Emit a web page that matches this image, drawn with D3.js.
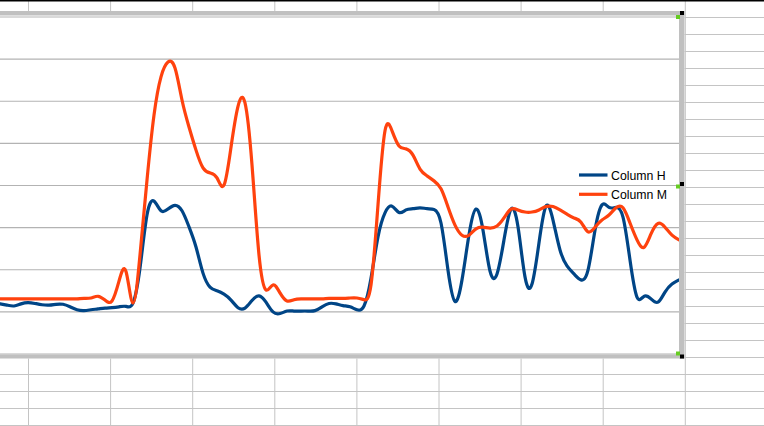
<!DOCTYPE html>
<html><head><meta charset="utf-8">
<script src="https://cdn.jsdelivr.net/npm/d3@7/dist/d3.min.js"></script>
<style>html,body{margin:0;padding:0;background:#fff;overflow:hidden}</style>
</head><body>
<svg id="c" width="764" height="426"></svg>
<script>
// ---- data ----
const seriesNames = ["Column H", "Column M"];
const columnH = [11.9,11.6,11.4,11.9,12.2,12.0,11.7,11.6,11.8,11.8,
 11.2,10.5,10.3,10.5,10.7,10.9,11.0,11.2,11.3,12.1,
 20.4,33.0,36.3,34.0,34.4,35.3,34.0,30.2,25.4,19.2,
 15.9,15.0,14.2,12.8,11.0,10.9,12.7,13.8,12.3,10.0,
 9.6,10.2,10.2,10.2,10.2,10.3,11.2,12.0,11.9,11.5,
 11.2,10.5,11.4,18.0,27.8,33.5,35.1,33.6,34.2,34.5,
 34.7,34.5,34.3,31.1,19.9,12.5,17.6,28.3,34.4,29.4,
 19.7,19.0,27.1,34.4,30.2,18.3,16.6,26.4,35.1,31.8,
 24.7,20.9,19.0,17.6,19.9,29.4,35.4,34.8,34.8,32.5,
 22.3,13.5,13.7,13.1,12.3,14.7,16.6,17.6];
const columnM = [13.1,13.1,13.1,13.1,13.1,13.1,13.1,13.1,13.1,13.1,
 13.1,13.1,13.2,13.3,13.7,12.8,12.6,17.3,19.6,12.1,
 23.5,41.3,56.7,65.8,69.3,67.9,60.3,53.9,48.4,44.2,
 43.0,41.8,40.1,49.1,58.8,59.6,44.9,23.5,15.2,16.4,
 14.5,12.6,12.9,13.1,13.1,13.1,13.1,13.2,13.2,13.2,
 13.3,13.3,12.9,16.4,35.4,53.0,53.0,49.4,48.7,47.2,
 43.9,42.3,41.1,39.2,34.9,30.6,28.2,28.2,29.7,30.1,
 29.9,30.4,32.3,34.4,34.2,33.7,33.7,34.2,35.0,35.0,
 34.2,33.2,32.3,31.3,29.0,30.1,31.8,33.0,34.7,34.7,
 31.1,27.1,25.3,28.5,31.0,30.1,28.2,27.1];
const yTicks = [0,10,20,30,40,50,60,70,80];
const colors = ["#004586", "#ff420e"];

// ---- layout ----
const W = 764, H = 426;
const svg = d3.select("#c");
const sheetLine = "#c4c4c4";

// spreadsheet grid background
const colX = d3.range(0, 9).map(i => 28.5 + i * 82.1);
const rowY = d3.range(1, 26).map(i => 17 * i + 0.5);
svg.append("g").selectAll("line").data(colX).join("line")
  .attr("x1", d => d).attr("x2", d => d).attr("y1", 0).attr("y2", H)
  .attr("stroke", sheetLine).attr("stroke-width", 1);
svg.append("g").selectAll("line").data(rowY).join("line")
  .attr("x1", 0).attr("x2", W).attr("y1", d => d).attr("y2", d => d)
  .attr("stroke", sheetLine).attr("stroke-width", 1);
svg.append("rect").attr("x", 0).attr("y", 0).attr("width", W).attr("height", 1.5).attr("fill", "#000");

// chart area
const chartLeft = -20, chartTop = 11, chartRight = 684.5, chartBottom = 358.5;
svg.append("rect").attr("x", chartLeft).attr("y", chartTop)
  .attr("width", chartRight - chartLeft).attr("height", chartBottom - chartTop).attr("fill", "#fff");

const x = d3.scaleLinear().domain([0, columnH.length - 1]).range([0, 679]);
const y = d3.scaleLinear().domain([0, 80]).range([354, 17]);

const plot = svg.append("g");
plot.append("g").selectAll("line").data(yTicks).join("line")
  .attr("x1", chartLeft).attr("x2", 679).attr("y1", d => y(d)).attr("y2", d => y(d))
  .attr("stroke", "#b3b3b3").attr("stroke-width", 1.2);

const line = d3.line().x((d, i) => x(i)).y(d => y(d)).curve(d3.curveNatural);
[columnH, columnM].forEach((s, k) => {
  plot.append("path").datum(s).attr("d", line)
    .attr("fill", "none").attr("stroke", colors[k]).attr("stroke-width", 3.2)
    .attr("stroke-linejoin", "round").attr("stroke-linecap", "round");
});

// legend
const lg = svg.append("g");
seriesNames.forEach((n, k) => {
  const ly = 175 + k * 19.3;
  lg.append("line").attr("x1", 579).attr("x2", 607.5).attr("y1", ly).attr("y2", ly)
    .attr("stroke", colors[k]).attr("stroke-width", 3.2);
  lg.append("text").attr("x", 611).attr("y", ly + 4.8).text(n)
    .attr("font-family", "Liberation Sans, Arial, sans-serif").attr("font-size", 12.3).attr("fill", "#000");
});

// chart border
const border = "#c0c0c0";
svg.append("rect").attr("x", chartLeft).attr("y", 11).attr("width", chartRight - chartLeft).attr("height", 4.5).attr("fill", border);
svg.append("rect").attr("x", chartLeft).attr("y", 354.5).attr("width", chartRight - chartLeft).attr("height", 4).attr("fill", border);
svg.append("rect").attr("x", 679).attr("y", 11).attr("width", 5.5).attr("height", 347.5).attr("fill", border);

// selection handles
const handles = [[11, 15], [182, 184.5], [354.5, 351.5]];
handles.forEach(([by, gy]) => {
  svg.append("rect").attr("x", 676).attr("y", gy).attr("width", 4).attr("height", 4).attr("fill", "#66cc22");
  svg.append("rect").attr("x", 680).attr("y", by).attr("width", 4).attr("height", 4).attr("fill", "#000");
});
</script>
</body></html>
